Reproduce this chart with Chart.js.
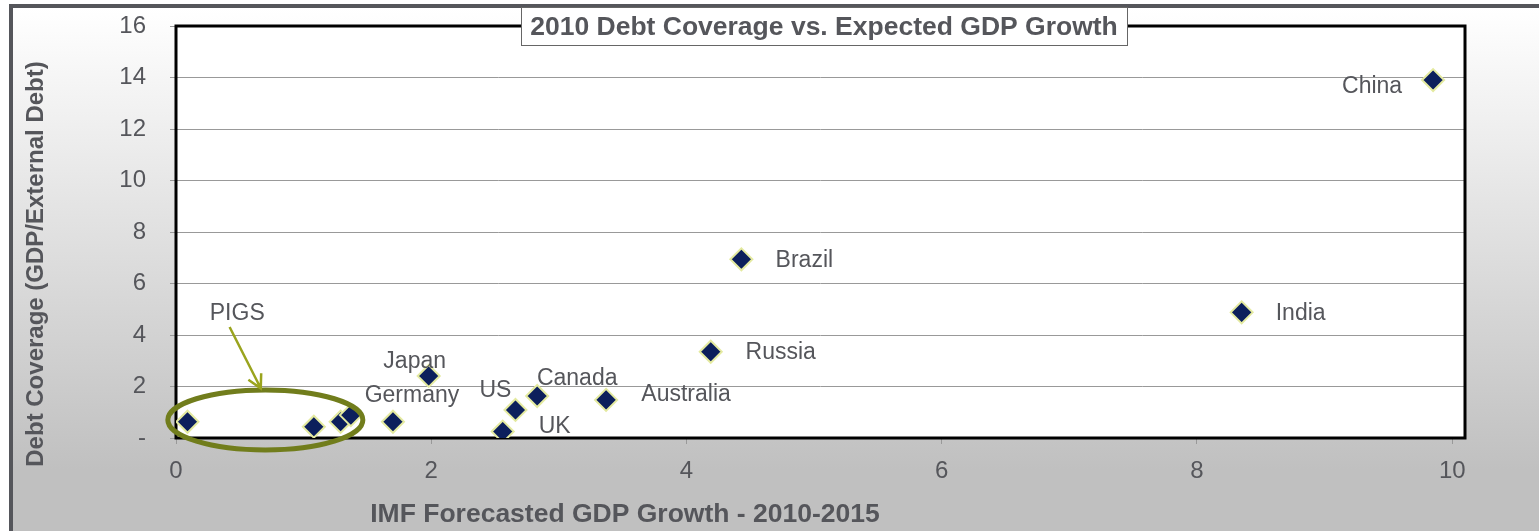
<!DOCTYPE html>
<html>
<head>
<meta charset="utf-8">
<title>2010 Debt Coverage vs. Expected GDP Growth</title>
<script src="https://cdn.jsdelivr.net/npm/chart.js@4.4.1/dist/chart.umd.min.js"></script>
<style>
  html, body { margin: 0; padding: 0; background: #fff; }
  canvas { display: block; }
</style>
</head>
<body>
<canvas id="debtChart" width="1539" height="531"></canvas>
<script>
// IMF forecast growth (x) against GDP / external debt (y)
var countries = ['', '', '', '', 'Germany', 'Japan', 'UK', 'US', 'Canada', 'Australia', 'Russia', 'Brazil', 'India', 'China'];
var gdpGrowth = [0.09, 1.08, 1.29, 1.37, 1.70, 1.98, 2.56, 2.66, 2.83, 3.37, 4.19, 4.43, 8.35, 9.85];
var debtCoverage = [0.63, 0.44, 0.63, 0.89, 0.63, 2.41, 0.25, 1.09, 1.63, 1.48, 3.35, 6.94, 4.88, 13.9];

var xTicks = [0, 2, 4, 6, 8, 10];
var yTicks = [0, 2, 4, 6, 8, 10, 12, 14, 16];

var chartTitle = '2010 Debt Coverage vs. Expected GDP Growth';
var xTitle = 'IMF Forecasted GDP Growth - 2010-2015';
var yTitle = 'Debt Coverage (GDP/External Debt)';

// where each name sits relative to its marker, in px
var labelNudge = {
    Germany: [19, -26],
    Japan: [-14, -14],
    UK: [52, -5],
    US: [-20, -19],
    Canada: [40, -17],
    Australia: [80, -5],
    Russia: [70, 1],
    Brazil: [63, 1],
    India: [59, 1],
    China: [-61, 7]
};

// PIGS callout, in axis units
var pigsRing = { x: 0.70, y: 0.70, rx: 0.764, ry: 1.165 };
var pigsArrow = { x1: 0.42, y1: 4.31, x2: 0.664, y2: 1.93 };
var pigsText = { text: 'PIGS', x: 0.48, y: 4.82 };

var TEXT = '#55565b';
var FONT = "'Liberation Sans', Arial, sans-serif";

var points = gdpGrowth.map(function (g, i) {
    return { x: g, y: debtCoverage[i] };
});

var decorations = {
    id: 'decorations',
    beforeDraw: function (chart) {
        var ctx = chart.ctx, a = chart.chartArea;
        ctx.save();
        ctx.fillStyle = '#fff';
        ctx.fillRect(0, 0, chart.width, chart.height);
        var g = ctx.createLinearGradient(0, 8, 0, 470);
        g.addColorStop(0, '#ffffff');
        g.addColorStop(1, '#c0c0c0');
        ctx.fillStyle = g;
        ctx.fillRect(12, 7, chart.width - 12, chart.height - 7);
        // outer frame (top and left edges)
        ctx.fillStyle = '#55565b';
        ctx.fillRect(9, 4, chart.width - 9, 4);
        ctx.fillRect(9, 4, 4, chart.height - 4);
        // plot area
        ctx.fillStyle = '#fff';
        ctx.fillRect(a.left, a.top, a.right - a.left, a.bottom - a.top);
        ctx.restore();
    },
    beforeDatasetsDraw: function (chart) {
        var ctx = chart.ctx, a = chart.chartArea;
        ctx.save();
        ctx.strokeStyle = '#000';
        ctx.lineWidth = 3;
        ctx.strokeRect(a.left, a.top, a.right - a.left, a.bottom - a.top);
        ctx.restore();
    },
    afterDatasetsDraw: function (chart) {
        var ctx = chart.ctx;
        var xs = chart.scales.x, ys = chart.scales.y;
        ctx.save();

        // country names
        ctx.fillStyle = TEXT;
        ctx.font = '23px ' + FONT;
        ctx.textAlign = 'center';
        ctx.textBaseline = 'middle';
        var meta = chart.getDatasetMeta(0);
        countries.forEach(function (name, i) {
            if (!name) return;
            var el = meta.data[i];
            var n = labelNudge[name] || [0, 0];
            ctx.fillText(name, el.x + n[0], el.y + n[1]);
        });

        // PIGS ring
        var cx = xs.getPixelForValue(pigsRing.x);
        var cy = ys.getPixelForValue(pigsRing.y);
        var rx = xs.getPixelForValue(pigsRing.x + pigsRing.rx) - cx;
        var ry = cy - ys.getPixelForValue(pigsRing.y + pigsRing.ry);
        ctx.strokeStyle = '#717d1c';
        ctx.lineWidth = 5;
        ctx.beginPath();
        ctx.ellipse(cx, cy, rx, ry, 0, 0, Math.PI * 2);
        ctx.stroke();

        // arrow
        var x1 = xs.getPixelForValue(pigsArrow.x1), y1 = ys.getPixelForValue(pigsArrow.y1);
        var x2 = xs.getPixelForValue(pigsArrow.x2), y2 = ys.getPixelForValue(pigsArrow.y2);
        var ang = Math.atan2(y2 - y1, x2 - x1);
        var head = 15, spread = 0.5;
        ctx.strokeStyle = '#9aa41e';
        ctx.lineWidth = 2.5;
        ctx.beginPath();
        ctx.moveTo(x1, y1);
        ctx.lineTo(x2, y2);
        ctx.moveTo(x2 - head * Math.cos(ang - spread), y2 - head * Math.sin(ang - spread));
        ctx.lineTo(x2, y2);
        ctx.lineTo(x2 - head * Math.cos(ang + spread), y2 - head * Math.sin(ang + spread));
        ctx.stroke();

        ctx.fillStyle = TEXT;
        ctx.fillText(pigsText.text, xs.getPixelForValue(pigsText.x), ys.getPixelForValue(pigsText.y));
        ctx.restore();
    },
    afterDraw: function (chart) {
        var ctx = chart.ctx;
        ctx.save();
        // boxed title straddling the top border
        ctx.fillStyle = '#fff';
        ctx.fillRect(521, 8, 607, 38);
        ctx.strokeStyle = '#666';
        ctx.lineWidth = 1;
        ctx.strokeRect(521.5, 7.5, 606, 38);
        ctx.fillStyle = TEXT;
        ctx.font = 'bold 26.5px ' + FONT;
        ctx.textAlign = 'center';
        ctx.textBaseline = 'middle';
        ctx.fillText(chartTitle, 824, 28);

        // axis titles
        ctx.fillText(xTitle, 625, 515);
        ctx.translate(36, 264);
        ctx.rotate(-Math.PI / 2);
        ctx.font = 'bold 24px ' + FONT;
        ctx.fillText(yTitle, 0, 0);
        ctx.restore();
    }
};

new Chart(document.getElementById('debtChart').getContext('2d'), {
    type: 'scatter',
    data: {
        datasets: [{
            label: 'Countries',
            data: points,
            pointStyle: 'rectRot',
            pointRadius: 11,
            pointHoverRadius: 11,
            backgroundColor: '#0c1f5c',
            borderColor: '#e4eaa0',
            borderWidth: 2
        }]
    },
    options: {
        responsive: false,
        animation: false,
        layout: { padding: { top: 26, right: 74, left: 0, bottom: 0 } },
        plugins: {
            legend: { display: false },
            tooltip: { enabled: false }
        },
        scales: {
            x: {
                type: 'linear',
                min: 0,
                max: 10.1,
                afterBuildTicks: function (s) {
                    s.ticks = xTicks.map(function (v) { return { value: v }; });
                },
                afterFit: function (s) {
                    s.height = 93;
                    s.paddingLeft = 0;
                    s.paddingRight = 0;
                },
                grid: { drawOnChartArea: false, tickLength: 6, color: '#999' },
                border: { display: false },
                ticks: { padding: 13, maxRotation: 0, color: TEXT, font: { family: FONT, size: 24 } }
            },
            y: {
                type: 'linear',
                min: 0,
                max: 16,
                afterBuildTicks: function (s) {
                    s.ticks = yTicks.map(function (v) { return { value: v }; });
                },
                afterFit: function (s) {
                    s.width = 176;
                    s.paddingTop = 0;
                    s.paddingBottom = 0;
                },
                grid: { tickLength: 6, color: '#999' },
                border: { display: false },
                ticks: {
                    padding: 24,
                    color: TEXT,
                    font: { family: FONT, size: 24 },
                    callback: function (v) { return v === 0 ? '-' : v; }
                }
            }
        }
    },
    plugins: [decorations]
});
</script>
</body>
</html>
